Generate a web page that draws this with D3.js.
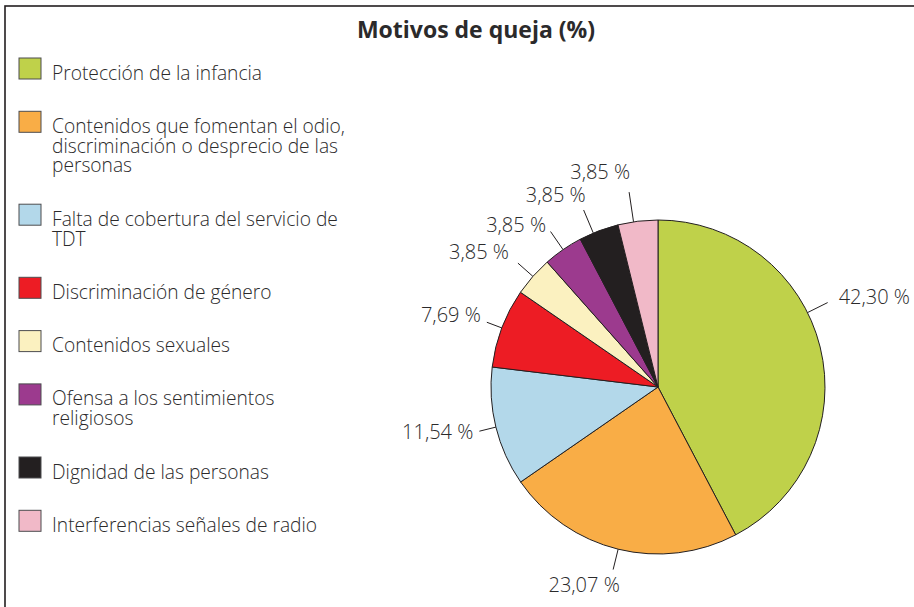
<!DOCTYPE html>
<html>
<head>
<meta charset="utf-8">
<script src="https://cdn.jsdelivr.net/npm/d3@7"></script>
<style>
  html, body { margin: 0; padding: 0; background: #fff; }
  svg { display: block; }
  text { font-family: "Open Sans", "Noto Sans", sans-serif; fill: #2b2a2b; font-weight: 300; }
</style>
</head>
<body>
<svg id="chart" width="914" height="607"></svg>
<script>
// ---- data ----
const title = "Motivos de queja (%)";
const categories = [
  "Protección de la infancia",
  "Contenidos que fomentan el odio, discriminación o desprecio de las personas",
  "Falta de cobertura del servicio de TDT",
  "Discriminación de género",
  "Contenidos sexuales",
  "Ofensa a los sentimientos religiosos",
  "Dignidad de las personas",
  "Interferencias señales de radio"
];
const legendLines = [
  ["Protección de la infancia"],
  ["Contenidos que fomentan el odio,", "discriminación o desprecio de las", "personas"],
  ["Falta de cobertura del servicio de", "TDT"],
  ["Discriminación de género"],
  ["Contenidos sexuales"],
  ["Ofensa a los sentimientos", "religiosos"],
  ["Dignidad de las personas"],
  ["Interferencias señales de radio"]
];
const values = [42.30, 23.07, 11.54, 7.69, 3.85, 3.85, 3.85, 3.85];
const valueLabels = ["42,30 %", "23,07 %", "11,54 %", "7,69 %", "3,85 %", "3,85 %", "3,85 %", "3,85 %"];
const colors = ["#bfd14a", "#f9ad46", "#b3d8ea", "#ed1c24", "#fbf1c0", "#9c3a8e", "#231f20", "#f1b9c8"];

// ---- layout (not data) ----
const W = 914, H = 607;
const cx = 658, cy = 387, R = 167;
const leaderShiftDeg = [-12.6, 0, 0, 0, 0, 0, -2, -1.5];
const leaderLen = [189.5, 188, 184, 183, 187, 189, 192, 197];
const labelAnchor = ["start", "middle", "end", "end", "end", "end", "end", "end"];
const labelDx = [11, -29, -6, -6, -9, -4.5, 2, 1];
const labelDy = [1, 22, 8, 0, -4, 0, -8, -13];

const svg = d3.select("#chart");

// frame
svg.append("rect")
  .attr("x", 5).attr("y", 6)
  .attr("width", W + 50).attr("height", H + 50)
  .attr("fill", "none").attr("stroke", "#231f20").attr("stroke-width", 1.6);

// title
svg.append("text")
  .attr("x", 476).attr("y", 38)
  .attr("text-anchor", "middle")
  .style("font-size", "23px").style("font-weight", "bold")
  .text(title);

// pie
const pie = d3.pie().sort(null).value(d => d).startAngle(0).endAngle(2 * Math.PI);
const arcs = pie(values);
const arc = d3.arc().innerRadius(0).outerRadius(R);

const g = svg.append("g").attr("transform", `translate(${cx},${cy})`);
g.selectAll("path.slice")
  .data(arcs)
  .join("path")
  .attr("class", "slice")
  .attr("d", arc)
  .attr("fill", (d, i) => colors[i])
  .attr("stroke", "#231f20")
  .attr("stroke-width", 1)
  .attr("stroke-linejoin", "round");

// leaders + labels
arcs.forEach((d, i) => {
  const a = (d.startAngle + d.endAngle) / 2 + leaderShiftDeg[i] * Math.PI / 180;
  const x0 = Math.sin(a) * R, y0 = -Math.cos(a) * R;
  const x1 = Math.sin(a) * leaderLen[i], y1 = -Math.cos(a) * leaderLen[i];
  g.append("line")
    .attr("x1", x0).attr("y1", y0).attr("x2", x1).attr("y2", y1)
    .attr("stroke", "#231f20").attr("stroke-width", 1);
  g.append("text")
    .attr("x", x1 + labelDx[i]).attr("y", y1 + labelDy[i])
    .attr("text-anchor", labelAnchor[i])
    .style("font-size", "20px")
    .text(valueLabels[i]);
});

// legend
const legend = svg.append("g");
let itemTop = 58;
legendLines.forEach((lines, i) => {
  legend.append("rect")
    .attr("x", 19).attr("y", itemTop)
    .attr("width", 22).attr("height", 21)
    .attr("fill", colors[i]).attr("stroke", "#4d4d4f").attr("stroke-width", 1);
  const t = legend.append("text")
    .attr("x", 52).attr("y", itemTop + 21.5)
    .style("font-size", "19.2px");
  lines.forEach((ln, j) => {
    t.append("tspan").attr("x", 52).attr("dy", j === 0 ? 0 : 19.8).text(ln);
  });
  itemTop += 53.3 + 19.8 * (lines.length - 1);
});
</script>
</body>
</html>
